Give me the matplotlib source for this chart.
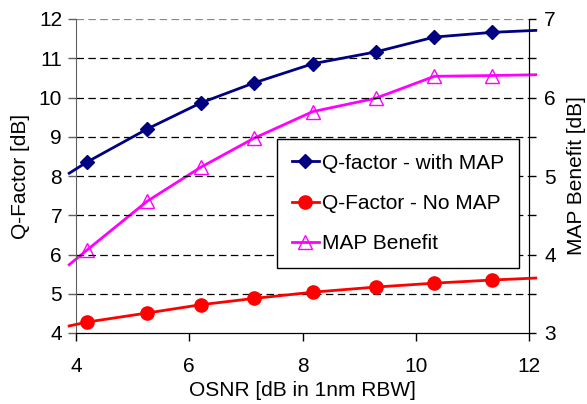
import numpy as np
import matplotlib.pyplot as plt

# OSNR values of the measured points
osnr = [4.2, 5.26, 6.2, 7.14, 8.18, 9.29, 10.33, 11.35]
q_with_map = [8.36, 9.2, 9.86, 10.37, 10.86, 11.16, 11.54, 11.66]
q_no_map = [4.28, 4.51, 4.72, 4.88, 5.04, 5.17, 5.27, 5.35]
map_benefit = [4.06, 4.68, 5.11, 5.48, 5.82, 5.99, 6.27, 6.28]

# trend lines run slightly past the plot edges
line_ends_x = [3.88, 12.12]
q_with_map_ends = [8.07, 11.71]
q_no_map_ends = [4.18, 5.40]
map_benefit_ends = [3.87, 6.29]

plt.rcParams['font.family'] = ['Liberation Sans', 'DejaVu Sans']
fs = 15

fig = plt.figure(figsize=(5.87, 4.04), dpi=100)
ax = fig.add_axes([76 / 587, 1 - 333 / 404, 453 / 587, 314 / 404])
ax2 = ax.twinx()


def with_ends(vals, ends):
    return [ends[0]] + list(vals) + [ends[1]]


xs = with_ends(osnr, line_ends_x)
every = list(range(1, len(osnr) + 1))

l1, = ax.plot(xs, with_ends(q_with_map, q_with_map_ends), color='#000080', lw=2,
              marker='D', ms=7, markevery=every, clip_on=False, zorder=5,
              label='Q-factor - with MAP')
l2, = ax.plot(xs, with_ends(q_no_map, q_no_map_ends), color='#ff0000', lw=2,
              marker='o', ms=9.5, markevery=every, clip_on=False, zorder=5,
              label='Q-Factor - No MAP')
l3, = ax2.plot(xs, with_ends(map_benefit, map_benefit_ends), color='#ff00ff', lw=2,
               marker='^', ms=10, mfc='none', mew=1, markevery=every,
               clip_on=False, zorder=5, label='MAP Benefit')

ax.set_xlim(4, 12)
ax.set_ylim(4, 12)
ax2.set_ylim(3, 7)
ax.set_xticks([4, 6, 8, 10, 12])
ax.set_yticks(range(4, 13))
ax2.set_yticks(np.arange(3, 7.01, 0.5))
ax2.set_yticklabels(['3', '', '4', '', '5', '', '6', '', '7'])

for y in range(5, 13):
    ax.axhline(y, color='black' if y < 12 else '#888888', lw=0.9,
               dashes=(6, 3.5), zorder=1)

ax.spines['top'].set_visible(False)
ax2.spines['top'].set_visible(False)
ax.spines['left'].set_color('#606060')
ax2.spines['left'].set_visible(False)
ax2.spines['right'].set_color('black')

ax.tick_params(axis='y', direction='out', length=6, width=1, color='#606060',
               labelsize=fs, pad=4)
ax.tick_params(axis='x', direction='out', length=6, width=1, labelsize=fs, pad=11)
ax2.tick_params(axis='y', direction='out', length=5, width=1, labelsize=fs, pad=6)

ax.set_xlabel('OSNR [dB in 1nm RBW]', fontsize=fs, labelpad=4)
ax.set_ylabel('Q-Factor [dB]', fontsize=fs, labelpad=6)
ax2.set_ylabel('MAP Benefit [dB]', fontsize=fs, labelpad=8)

ax.set_zorder(ax2.get_zorder() + 1)
ax.patch.set_visible(False)

leg = ax.legend(handles=[l1, l2, l3], loc='upper left',
                bbox_to_anchor=(277 / 587, 1 - 139 / 404),
                bbox_transform=fig.transFigure, borderaxespad=0,
                fontsize=fs, frameon=True, fancybox=False, framealpha=1,
                edgecolor='black', handlelength=1.3, handletextpad=0.15,
                labelspacing=1.02, borderpad=0.7)
leg.get_frame().set_linewidth(1)
leg.set_zorder(10)

fig.savefig('out.png', dpi=100)
